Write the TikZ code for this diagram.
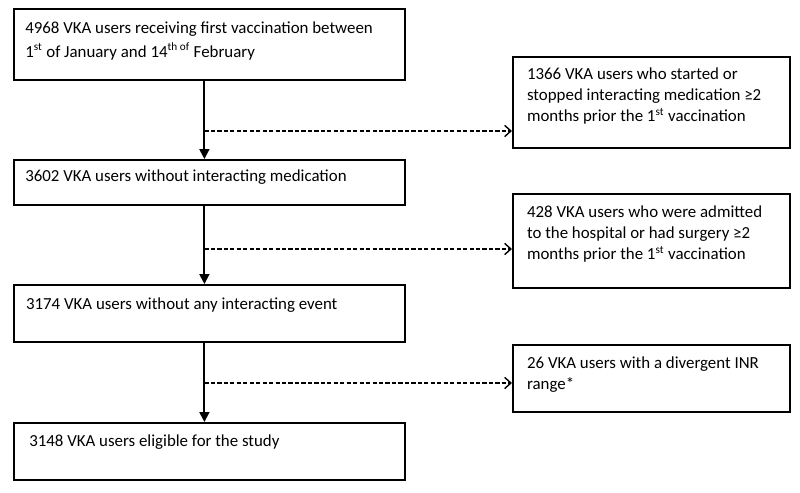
\documentclass[tikz,border=0pt]{standalone}
\usepackage{fontspec}
\setmainfont{Carlito}
\usetikzlibrary{arrows.meta,positioning}

\tikzset{
  box/.style={draw, line width=1.2pt, anchor=north west, minimum height=#1, inner sep=0pt},
  leftbox/.style={box=#1, minimum width=9.775cm},
  rightbox/.style={box=#1, minimum width=6.925cm},
  txt/.style={inner sep=0pt, align=left, font=\fontsize{12}{15}\selectfont},
  flow/.style={-{Triangle[length=7pt,width=7pt]}, line width=1.3pt},
  excl/.style={-{Straight Barb[length=4.5pt,width=8pt]}, line width=1pt, dash pattern=on 3pt off 1.6pt},
}

\begin{document}
\begin{tikzpicture}
    \useasboundingbox (0,0) rectangle (20,-12.325);

    % Main flow (left)
    \node[leftbox=1.775cm] (b1) at (0.325,-0.2) {};
    \node[leftbox=1.125cm] (b2) at (0.325,-3.975) {};
    \node[leftbox=1.425cm] (b3) at (0.325,-7.1) {};
    \node[leftbox=1.425cm] (b4) at (0.325,-10.55) {};

    \node[txt, below right=0.33cm and 0.3cm of b1.north west, font=\fontsize{12}{17}\selectfont] (t1)
        {4968 VKA users receiving first vaccination between\\
         1\textsuperscript{st} of January and 14\textsuperscript{th of} February};
    \node[txt, below right=0.27cm and 0.3cm of b2.north west] (t2)
        {3602 VKA users without interacting medication};
    \node[txt, below right=0.33cm and 0.32cm of b3.north west] (t3)
        {3174 VKA users without any interacting event};
    \node[txt, below right=0.31cm and 0.4cm of b4.north west] (t4)
        {3148 VKA users eligible for the study};

    % Exclusions (right)
    \node[rightbox=2.275cm] (r1) at (12.8,-1.4) {};
    \node[rightbox=2.35cm] (r2) at (12.8,-4.825) {};
    \node[rightbox=1.675cm] (r3) at (12.8,-8.6) {};

    \node[txt, below right=0.29cm and 0.37cm of r1.north west] (u1)
        {1366 VKA users who started or\\
         stopped interacting medication ≥2\\
         months prior the 1\textsuperscript{st} vaccination};
    \node[txt, below right=0.31cm and 0.37cm of r2.north west] (u2)
        {428 VKA users who were admitted\\
         to the hospital or had surgery ≥2\\
         months prior the 1\textsuperscript{st} vaccination};
    \node[txt, below right=0.31cm and 0.37cm of r3.north west] (u3)
        {26 VKA users with a divergent INR\\
         range*};

    % Branch points on the spine
    \coordinate (s1) at (5.11,-3.275);
    \coordinate (s2) at (5.11,-6.225);
    \coordinate (s3) at (5.11,-9.575);

    % Arrows
    \draw[flow] (b1.south -| s1) -- (b2.north -| s1);
    \draw[flow] (b2.south -| s2) -- (b3.north -| s2);
    \draw[flow] (b3.south -| s3) -- (b4.north -| s3);

    \draw[excl] (s1) -- (s1 -| r1.west);
    \draw[excl] (s2) -- (s2 -| r2.west);
    \draw[excl] (s3) -- (s3 -| r3.west);
\end{tikzpicture}
\end{document}
